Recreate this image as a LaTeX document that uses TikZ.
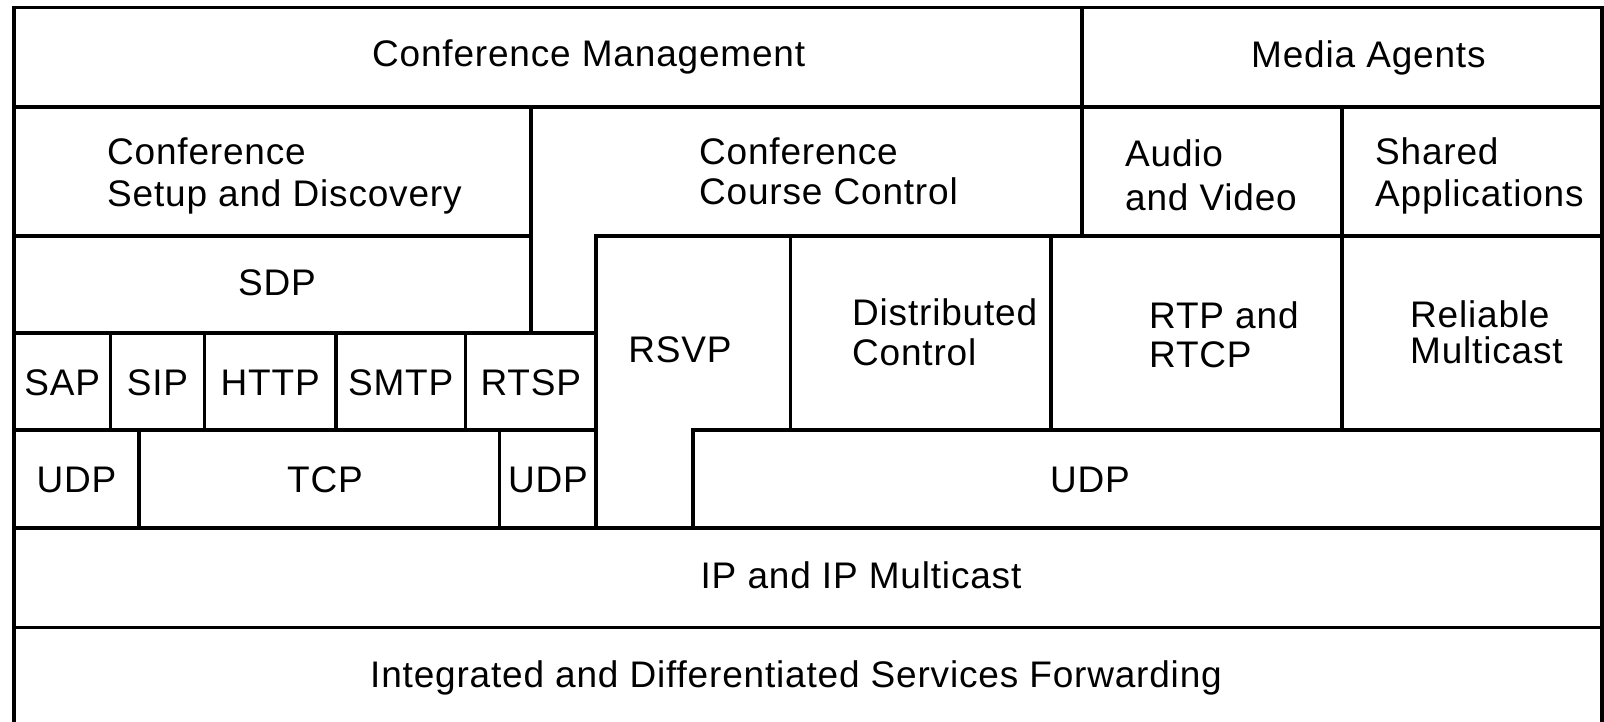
\documentclass[tikz,border=0pt]{standalone}
\usepackage{fontspec}
\setmainfont[LetterSpace=2.2]{Liberation Sans}
\begin{document}
\begin{tikzpicture}[x=1pt, y=-1pt,
  rule/.style={line width=3.4pt, line cap=rect},
  lbl/.style={inner sep=0pt, font=\fontsize{37}{40}\selectfont}]
\useasboundingbox (0,0) rectangle (1604,722);

% outer frame (runs off the lower edge)
\draw[rule] (14,722) -- (14,7.5) -- (1602,7.5) -- (1602,722);

% horizontal rules
\draw[rule] (14,107) -- (1602,107);
\draw[rule] (14,236) -- (531,236);
\draw[rule] (596,236) -- (1602,236);
\draw[rule] (14,333) -- (596,333);
\draw[rule] (14,430) -- (596,430);
\draw[rule] (693,430) -- (1602,430);
\draw[rule] (14,528) -- (1602,528);
\draw[rule] (14,627.5) -- (1602,627.5);

% vertical rules
\draw[rule] (1082,7.5) -- (1082,236);
\draw[rule] (531,107) -- (531,333);
\draw[rule] (1342,107) -- (1342,430);
\draw[rule] (596,236) -- (596,528);
\draw[rule] (790.5,236) -- (790.5,430);
\draw[rule] (1051,236) -- (1051,430);
\draw[rule] (693,430) -- (693,528);
\foreach \xx in {110.5,204.5,336,465.5}
  \draw[rule] (\xx,333) -- (\xx,430);
\foreach \xx in {139,499.5}
  \draw[rule] (\xx,430) -- (\xx,528);

% top row
\node[lbl, anchor=base west] (confmgmt) at (372,67) {Conference Management};
\node[lbl, anchor=base west] (media) at (1251,68) {Media Agents};

% second row
\node[lbl, anchor=base west] (setupA) at (107,165) {Conference};
\node[lbl, anchor=base west] (setupB) at (107,207) {Setup and Discovery};
\node[lbl, anchor=base west] (courseA) at (699,165) {Conference};
\node[lbl, anchor=base west] (courseB) at (699,205) {Course Control};
\node[lbl, anchor=base west] (avA) at (1125,167) {Audio};
\node[lbl, anchor=base west] (avB) at (1125,211) {and Video};
\node[lbl, anchor=base west] (sharedA) at (1375,165) {Shared};
\node[lbl, anchor=base west] (sharedB) at (1375,207) {Applications};

% third row
\node[lbl, anchor=base] (sdp) at (277,295) {SDP};
\node[lbl, anchor=base] (rsvp) at (680,362) {RSVP};
\node[lbl, anchor=base west] (distA) at (852,325) {Distributed};
\node[lbl, anchor=base west] (distB) at (852,365) {Control};
\node[lbl, anchor=base west] (rtpA) at (1149,328) {RTP and};
\node[lbl, anchor=base west] (rtpB) at (1149,367) {RTCP};
\node[lbl, anchor=base west] (relA) at (1410,327) {Reliable};
\node[lbl, anchor=base west] (relB) at (1410,363) {Multicast};

% session and transfer protocols
\node[lbl, anchor=base] (sap) at (62.25,395) {SAP};
\node[lbl, anchor=base] (sip) at (157.5,395) {SIP};
\node[lbl, anchor=base] (http) at (270.25,395) {HTTP};
\node[lbl, anchor=base] (smtp) at (400.75,395) {SMTP};
\node[lbl, anchor=base] (rtsp) at (530.75,395) {RTSP};

% transport row
\node[lbl, anchor=base] (udpA) at (76.5,492) {UDP};
\node[lbl, anchor=base] (tcp) at (325,492) {TCP};
\node[lbl, anchor=base] (udpB) at (548,492) {UDP};
\node[lbl, anchor=base] (udpC) at (1090,492) {UDP};

% network layers
\node[lbl, anchor=base] (ip) at (861,588) {IP and IP Multicast};
\node[lbl, anchor=base west] (fwd) at (370,687) {Integrated and Differentiated Services Forwarding};
\end{tikzpicture}
\end{document}
